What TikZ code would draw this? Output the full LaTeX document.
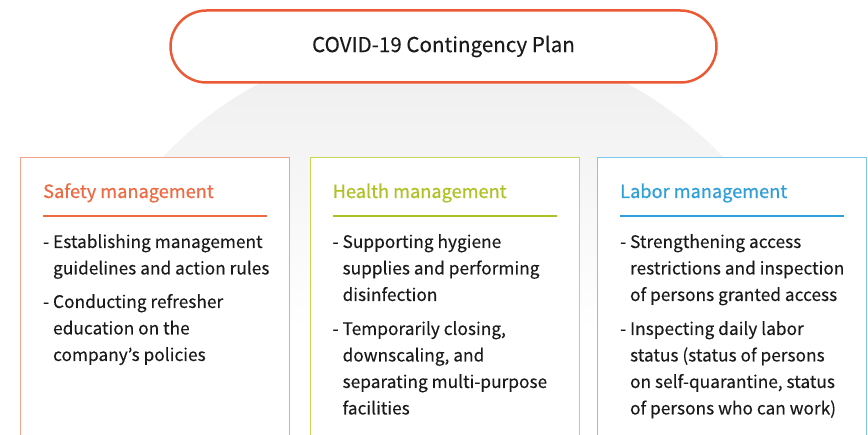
\documentclass[tikz,border=0pt]{standalone}
\usepackage{fontspec}
\setmainfont{Noto Sans CJK KR}
\newfontfamily\headfont[FakeBold=0.6]{Noto Sans CJK KR}
\newfontfamily\bodyfont[FakeBold=0.15]{Noto Sans CJK KR}
\usepackage{xcolor}
\usetikzlibrary{positioning}
\definecolor{planred}{HTML}{EB5A35}
\definecolor{safetyred}{HTML}{EE6A42}
\definecolor{safetyline}{HTML}{F5A18C}
\definecolor{healthgreen}{HTML}{AEC125}
\definecolor{healthline}{HTML}{C9D651}
\definecolor{laborblue}{HTML}{2E9FD9}
\definecolor{laborline}{HTML}{7CC8EC}
\definecolor{bodytext}{HTML}{1A1A1A}
\newcommand{\itemlines}[1]{\begin{tabular}[t]{@{}l@{}}#1\end{tabular}}

\begin{document}
\begin{tikzpicture}[x=1pt, y=1pt, font=\bodyfont\fontsize{17.3}{26.5}\selectfont,
  pill/.style={draw=planred, line width=2.5pt, rounded corners=36pt, fill=white,
    minimum width=546pt, minimum height=72pt, inner sep=0pt, text=bodytext,
    font=\bodyfont\fontsize{20.6}{24}\selectfont},
  panel/.style={draw, fill=white, line width=1.2pt, anchor=north west,
    minimum width=269pt, minimum height=300pt},
  head/.style={anchor=base west, inner sep=0pt, font=\headfont\fontsize{18.2}{22}\selectfont},
  item/.style={anchor=base west, inner sep=0pt, text=bodytext},
  sepline/.style={line width=1.3pt}]
\useasboundingbox (0,0) rectangle (868,-435);
\clip (0,0) rectangle (868,-435);
% faded disc behind the panels
\begin{scope}
  \clip (443,-424) circle (387);
  \shade[top color=black!7, bottom color=white] (0,-37) rectangle (868,-330);
\end{scope}
\node[pill] (plan) at (443.5,-46.5) {COVID-19 Contingency Plan};
% panels
\node[panel, draw=safetyline] (safety) at (20,-157) {};
\node[panel, draw=healthline] (health) at (309.5,-157) {};
\node[panel, draw=laborline] (labor) at (597,-157) {};
% headings and rules
\node[head, text=safetyred] (safetyhd) at ([xshift=23pt, yshift=-41pt]safety.north west) {Safety management};
\node[head, text=healthgreen] (healthhd) at ([xshift=23pt, yshift=-41pt]health.north west) {Health management};
\node[head, text=laborblue] (laborhd) at ([xshift=23pt, yshift=-41pt]labor.north west) {Labor management};
\draw[sepline, draw=safetyred] ([xshift=23pt, yshift=-59pt]safety.north west) -- ([xshift=-23pt, yshift=-59pt]safety.north east);
\draw[sepline, draw=healthgreen] ([xshift=23pt, yshift=-59pt]health.north west) -- ([xshift=-23pt, yshift=-59pt]health.north east);
\draw[sepline, draw=laborblue] ([xshift=23pt, yshift=-59pt]labor.north west) -- ([xshift=-23pt, yshift=-59pt]labor.north east);
% items
\node[item] (safety1) at ([xshift=23pt, yshift=-91pt]safety.north west)
  {\itemlines{- Establishing management\\\hphantom{- }guidelines and action rules}};
\node[item] (safety2) at ([xshift=23pt, yshift=-151pt]safety.north west)
  {\itemlines{- Conducting refresher\\\hphantom{- }education on the\\\hphantom{- }company’s policies}};
\node[item] (health1) at ([xshift=23pt, yshift=-91pt]health.north west)
  {\itemlines{- Supporting hygiene\\\hphantom{- }supplies and performing\\\hphantom{- }disinfection}};
\node[item] (health2) at ([xshift=23pt, yshift=-178pt]health.north west)
  {\itemlines{- Temporarily closing,\\\hphantom{- }downscaling, and\\\hphantom{- }separating multi-purpose\\\hphantom{- }facilities}};
\node[item] (labor1) at ([xshift=23pt, yshift=-91pt]labor.north west)
  {\itemlines{- Strengthening access\\\hphantom{- }restrictions and inspection\\\hphantom{- }of persons granted access}};
\node[item] (labor2) at ([xshift=23pt, yshift=-178pt]labor.north west)
  {\itemlines{- Inspecting daily labor\\\hphantom{- }status (status of persons\\\hphantom{- }on self-quarantine, status\\\hphantom{- }of persons who can work)}};
\end{tikzpicture}
\end{document}
